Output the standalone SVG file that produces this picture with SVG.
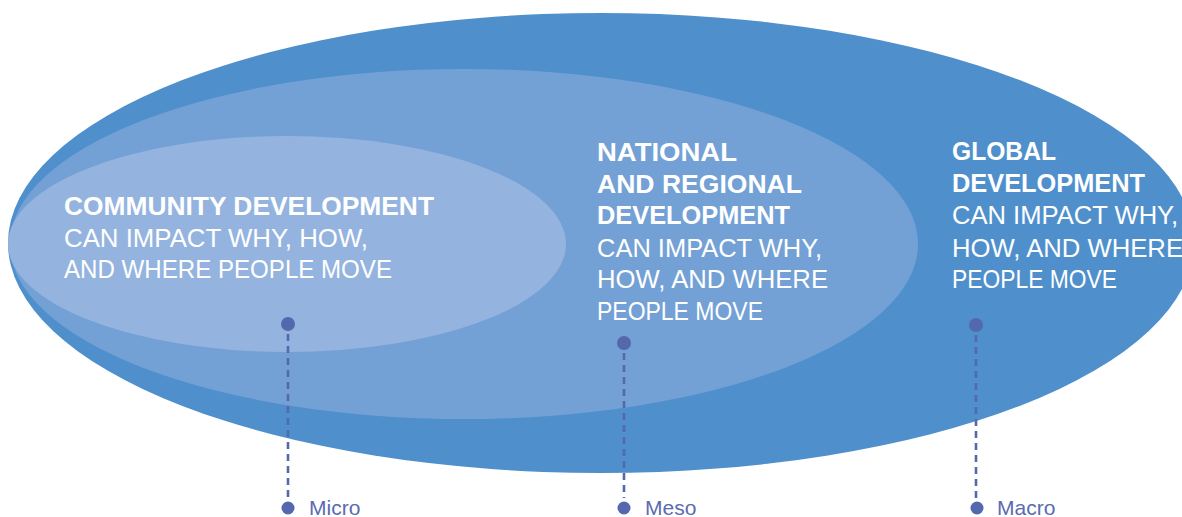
<svg xmlns="http://www.w3.org/2000/svg" width="1182" height="517" viewBox="0 0 1182 517">
<style>
.t{font-family:"Liberation Sans",Arial,sans-serif;font-size:25px;fill:#ffffff}
.b{font-weight:bold}
.lbl{font-family:"Liberation Sans",Arial,sans-serif;font-size:21px;fill:#5a6cb0}
.dot{fill:#5468ad}
.dash{stroke:#5468ad;stroke-width:2.6;stroke-dasharray:7 5;fill:none}
</style>
<rect width="1182" height="517" fill="#ffffff"/>
<g id="global">
<ellipse cx="601" cy="243" rx="593" ry="230" fill="#4f90cc"/>
</g>
<g id="national">
<ellipse cx="464" cy="244" rx="454" ry="175" fill="#73a1d5"/>
</g>
<g id="community">
<ellipse cx="287" cy="244" rx="279" ry="108" fill="#94b4df"/>
</g>
<g id="community-text">
<text class="t b" x="64" y="215" textLength="370" lengthAdjust="spacingAndGlyphs">COMMUNITY DEVELOPMENT</text>
<text class="t" x="64" y="247" textLength="304" lengthAdjust="spacingAndGlyphs">CAN IMPACT WHY, HOW,</text>
<text class="t" x="64" y="278" textLength="328" lengthAdjust="spacingAndGlyphs">AND WHERE PEOPLE MOVE</text>
</g>
<g id="national-text">
<text class="t b" x="597" y="161" textLength="140" lengthAdjust="spacingAndGlyphs">NATIONAL</text>
<text class="t b" x="597" y="193" textLength="205" lengthAdjust="spacingAndGlyphs">AND REGIONAL</text>
<text class="t b" x="597" y="224" textLength="193" lengthAdjust="spacingAndGlyphs">DEVELOPMENT</text>
<text class="t" x="597" y="257" textLength="225" lengthAdjust="spacingAndGlyphs">CAN IMPACT WHY,</text>
<text class="t" x="597" y="288" textLength="231" lengthAdjust="spacingAndGlyphs">HOW, AND WHERE</text>
<text class="t" x="597" y="320" textLength="166" lengthAdjust="spacingAndGlyphs">PEOPLE MOVE</text>
</g>
<g id="global-text">
<text class="t b" x="952" y="160" textLength="104" lengthAdjust="spacingAndGlyphs">GLOBAL</text>
<text class="t b" x="952" y="192" textLength="193" lengthAdjust="spacingAndGlyphs">DEVELOPMENT</text>
<text class="t" x="952" y="224" textLength="226" lengthAdjust="spacingAndGlyphs">CAN IMPACT WHY,</text>
<text class="t" x="952" y="257" textLength="231" lengthAdjust="spacingAndGlyphs">HOW, AND WHERE</text>
<text class="t" x="952" y="288" textLength="165" lengthAdjust="spacingAndGlyphs">PEOPLE MOVE</text>
</g>
<g id="connectors">
<line class="dash" x1="288" y1="334" x2="288" y2="498"/>
<line class="dash" x1="624" y1="353" x2="624" y2="498"/>
<line class="dash" x1="976" y1="335" x2="976" y2="498"/>
</g>
<g id="micro">
<circle class="dot" cx="288" cy="324" r="7"/>
<circle class="dot" cx="288" cy="508" r="6.5"/>
<text class="lbl" x="309" y="515">Micro</text>
</g>
<g id="meso">
<circle class="dot" cx="624" cy="343" r="7"/>
<circle class="dot" cx="624" cy="508" r="6.5"/>
<text class="lbl" x="645" y="515">Meso</text>
</g>
<g id="macro">
<circle class="dot" cx="976" cy="325" r="7"/>
<circle class="dot" cx="977" cy="508" r="6.5"/>
<text class="lbl" x="997" y="515">Macro</text>
</g>
</svg>
